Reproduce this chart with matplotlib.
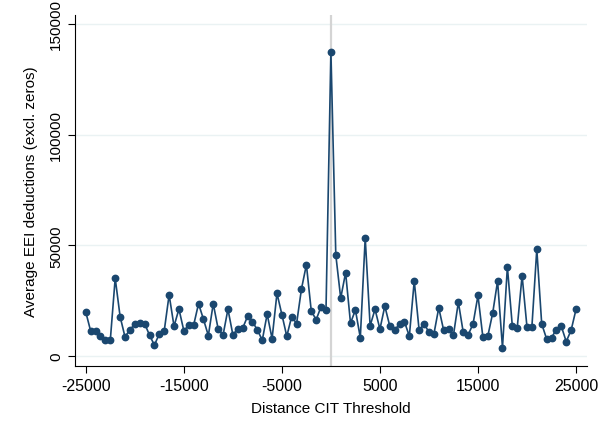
import matplotlib
matplotlib.use("Agg")
import matplotlib.pyplot as plt
import numpy as np

# distance bins (500 wide) and average EEI deductions per bin
distance = np.arange(-25000, 25001, 500)
avg_eei = [
    19900, 11300, 11500, 9300, 7400, 7200, 35200, 17900, 8700, 12000,
    14400, 15200, 14700, 9500, 5000, 10100, 11400, 27700, 13500, 21300,
    11500, 14000, 14000, 23700, 16700, 9300, 23700, 12300, 9500, 21200,
    9700, 12300, 12600, 18000, 15500, 11900, 7200, 19000, 7900, 28400,
    18800, 9000, 17900, 14700, 30400, 41300, 20300, 16500, 22400, 20800,
    137500, 45700, 26200, 37700, 14900, 20900, 8300, 53400, 13700, 21200,
    12200, 22600, 13700, 11900, 14400, 15600, 9000, 34000, 11600, 14700,
    10800, 9900, 21800, 11700, 12200, 9500, 24400, 10700, 9600, 14600,
    27400, 8600, 9000, 19400, 33900, 3900, 40300, 13800, 12600, 36400,
    13100, 13200, 48300, 14600, 7800, 8400, 12000, 13500, 6600, 11700,
    21100,
]
xticks = [-25000, -15000, -5000, 5000, 15000, 25000]
yticks = [0, 50000, 100000, 150000]

plt.rcParams['font.family'] = ['Liberation Sans', 'DejaVu Sans']

fig = plt.figure(figsize=(6, 4.35), dpi=100)
ax = fig.add_axes([0.125, 0.156, 0.853, 0.807])

for y in yticks:
    ax.axhline(y, color='#eaf2f3', lw=1.0, zorder=0)
ax.axvline(0, color='#d4d4d4', lw=1.6, zorder=1)

ax.plot(distance, avg_eei, color='#1a476f', lw=1.2, marker='o',
        markersize=4.6, zorder=3)

ax.set_xlim(-26100, 26100)
ax.set_ylim(-4500, 154000)
ax.set_xticks(xticks)
ax.set_xticklabels([str(t) for t in xticks], fontsize=11.5)
ax.set_yticks(yticks)
ax.set_yticklabels([str(t) for t in yticks], fontsize=11, rotation=90,
                   va='center')

ax.spines['top'].set_visible(False)
ax.spines['right'].set_visible(False)
ax.tick_params(direction='out', length=5, width=0.8, color='black')

ax.set_xlabel('Distance CIT Threshold', fontsize=11, labelpad=6)
ax.set_ylabel('Average EEI deductions (excl. zeros)', fontsize=11,
              labelpad=8)

fig.savefig('out.png', dpi=100)
plt.close(fig)
